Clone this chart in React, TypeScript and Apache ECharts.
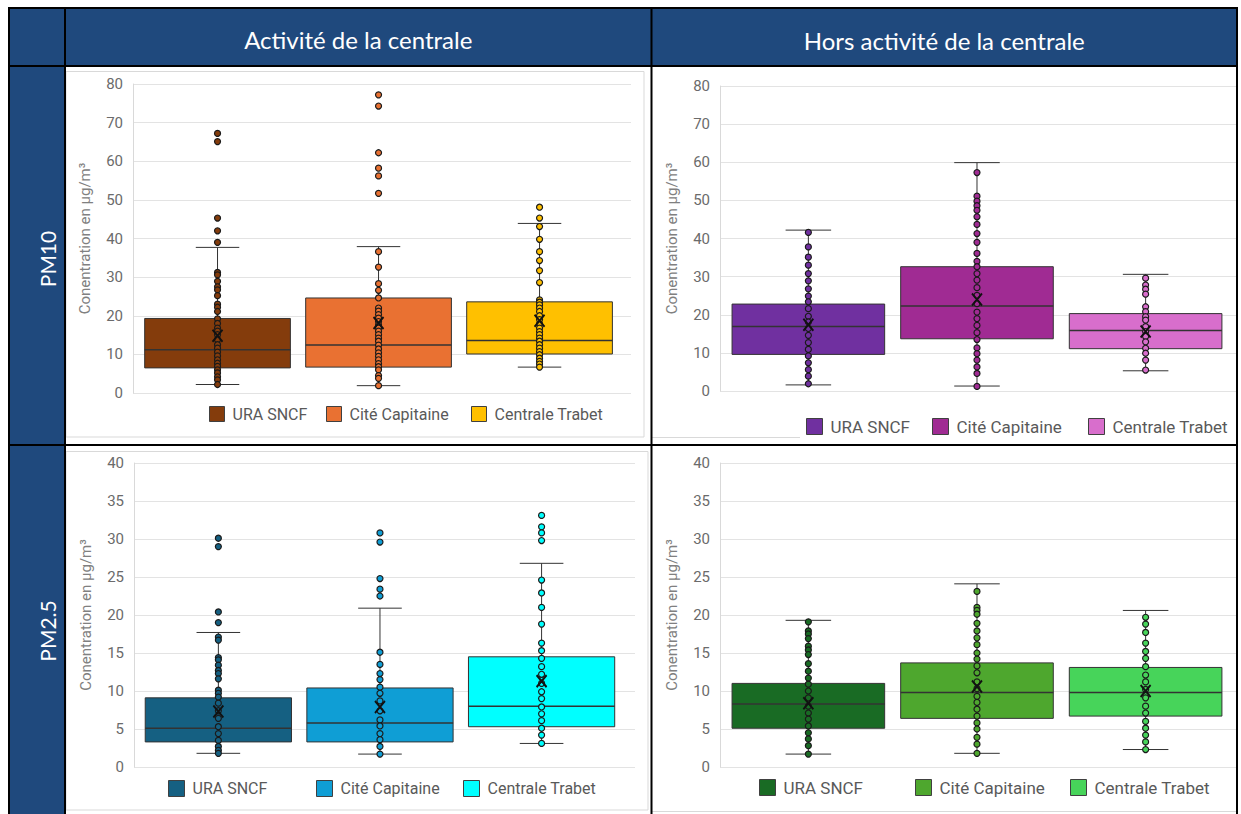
import React, { useEffect, useRef } from 'react';
import * as echarts from 'echarts';

// ---- labels ----
const SITES = ['URA SNCF', 'Cité Capitaine', 'Centrale Trabet'];
const PERIODS = ['Activité de la centrale', 'Hors activité de la centrale'];
const POLLUTANTS = ['PM10', 'PM2.5'];
const Y_TITLE = 'Conentration en µg/m³';

// ---- value axes: [min, max, step] ----
const PM10_TICKS = [0, 80, 10];
const PM25_TICKS = [0, 40, 5];

// ---- PM10, plant running: [min, Q1, median, Q3, max] per site ----
const PM10_ON_STATS = [
  [2.2, 6.5, 11.2, 19.3, 37.7],
  [1.9, 6.7, 12.4, 24.6, 37.9],
  [6.7, 10.1, 13.6, 23.6, 43.9],
];
const PM10_ON_MEANS = [14.8, 18.1, 18.7];
const PM10_ON_URA = [67.2, 65.1, 45.3, 42.0, 39.0, 31.2, 30.6, 28.9, 27.5, 26.7, 25.2, 23.0, 22.2, 21.1, 19.2, 18.0, 16.8, 16.0, 15.1, 13.8, 12.5, 11.6, 10.6, 9.6, 8.6, 7.7, 6.9, 6.0, 5.2, 4.2, 3.4, 2.2];
const PM10_ON_CITE = [77.2, 74.3, 62.2, 58.2, 56.2, 51.7, 36.6, 32.6, 28.3, 26.6, 24.6, 22.0, 21.2, 20.3, 19.4, 18.5, 17.6, 16.8, 16.0, 15.1, 14.2, 13.4, 12.4, 11.4, 10.4, 9.5, 8.6, 7.6, 6.8, 6.0, 4.5, 3.8, 1.9];
const PM10_ON_TRABET = [48.1, 45.3, 43.1, 39.8, 36.6, 34.3, 31.7, 28.6, 24.1, 23.5, 22.8, 22.0, 21.1, 20.0, 19.0, 17.9, 16.8, 15.9, 15.1, 14.2, 13.4, 12.5, 11.6, 10.7, 9.9, 9.0, 8.2, 7.5, 6.7];
const PM10_ON_COLORS = ['#843C0C', '#E97132', '#FFC000'];

// ---- PM10, plant stopped ----
const PM10_OFF_STATS = [
  [1.6, 9.6, 16.9, 22.8, 42.2],
  [1.3, 13.7, 22.3, 32.6, 59.9],
  [5.3, 11.1, 15.9, 20.3, 30.6],
];
const PM10_OFF_MEANS = [17.4, 24.0, 15.6];
const PM10_OFF_URA = [41.6, 37.8, 35.1, 33.0, 30.8, 28.9, 26.8, 24.9, 23.4, 21.6, 19.6, 18.1, 16.4, 14.6, 12.7, 10.9, 9.2, 7.4, 5.6, 3.9, 1.9];
const PM10_OFF_CITE = [57.3, 51.1, 49.8, 48.6, 47.4, 45.7, 43.7, 41.3, 39.0, 36.1, 34.0, 32.6, 30.8, 29.1, 27.1, 25.1, 22.9, 20.7, 19.0, 17.2, 15.3, 13.5, 11.3, 9.8, 8.1, 6.3, 4.6, 1.2];
const PM10_OFF_TRABET = [29.6, 27.8, 26.7, 25.4, 22.1, 20.8, 19.5, 18.6, 16.9, 15.6, 14.3, 12.9, 11.2, 9.9, 8.1, 5.5];
const PM10_OFF_COLORS = ['#7030A0', '#A02B93', '#D86ECC'];

// ---- PM2.5, plant running ----
const PM25_ON_STATS = [
  [1.8, 3.3, 5.1, 9.1, 17.7],
  [1.7, 3.3, 5.8, 10.4, 20.9],
  [3.1, 5.3, 8.0, 14.5, 26.8],
];
const PM25_ON_MEANS = [7.3, 7.9, 11.3];
const PM25_ON_URA = [30.1, 29.0, 20.4, 19.0, 17.1, 16.7, 14.4, 14.1, 13.4, 12.7, 12.3, 11.6, 10.1, 9.7, 9.2, 8.4, 7.4, 6.4, 5.3, 4.4, 3.5, 2.7, 2.2, 1.8];
const PM25_ON_CITE = [30.8, 29.6, 24.8, 23.4, 22.5, 15.1, 13.5, 12.3, 11.5, 10.5, 9.7, 8.7, 7.4, 6.2, 5.4, 4.4, 3.6, 2.7, 1.7];
const PM25_ON_TRABET = [33.1, 31.6, 30.8, 29.8, 24.6, 22.9, 21.0, 18.8, 16.3, 15.3, 14.3, 13.2, 12.2, 11.0, 9.9, 9.0, 7.9, 7.0, 6.1, 5.1, 4.2, 3.1];
const PM25_ON_COLORS = ['#156082', '#0F9ED5', '#00FFFF'];

// ---- PM2.5, plant stopped ----
const PM25_OFF_STATS = [
  [1.7, 5.1, 8.3, 11.0, 19.3],
  [1.8, 6.4, 9.8, 13.7, 24.1],
  [2.3, 6.7, 9.8, 13.1, 20.6],
];
const PM25_OFF_MEANS = [8.4, 10.6, 10.0];
const PM25_OFF_URA = [19.1, 17.9, 17.5, 16.9, 15.9, 15.4, 14.8, 13.6, 12.6, 11.7, 10.9, 10.0, 9.1, 8.0, 7.1, 6.3, 5.4, 4.5, 3.7, 2.8, 1.7];
const PM25_OFF_CITE = [23.1, 21.0, 20.6, 20.1, 18.9, 17.9, 17.0, 16.1, 15.0, 14.2, 13.3, 12.4, 11.2, 10.3, 9.3, 8.5, 7.6, 6.7, 5.8, 5.0, 3.9, 3.0, 1.8];
const PM25_OFF_TRABET = [19.7, 18.8, 17.7, 16.3, 15.2, 14.3, 13.2, 12.1, 11.2, 10.2, 9.1, 8.0, 7.1, 6.0, 5.1, 4.2, 3.3, 2.3];
const PM25_OFF_COLORS = ['#196B24', '#4EA72E', '#47D45A'];

// ---- styling ----
const CHART_FONT = "Roboto, 'Noto Sans', sans-serif";
const TABLE_FONT = "Lato, 'Noto Sans', sans-serif";
const NAVY = '#1F497D';
const BOX_WIDTH = 0.905; // in category units
const CAP_WIDTH = 0.27;
const EDGE = '#333333';

type Panel = {
  stats: number[][];
  means: number[];
  points: number[][];
  colors: string[];
  ticks: number[];
  grid: { left: number; top: number; width: number; height: number };
  xRange: [number, number];
  legendX: number[];
  legendY: number;
  legendBox: number;
  legendFont: number;
};

const PANELS: Panel[] = [
  {
    stats: PM10_ON_STATS, means: PM10_ON_MEANS,
    points: [PM10_ON_URA, PM10_ON_CITE, PM10_ON_TRABET], colors: PM10_ON_COLORS, ticks: PM10_TICKS,
    grid: { left: 133, top: 84, width: 498, height: 309 }, xRange: [-0.525, 2.568],
    legendX: [209, 326, 471], legendY: 416, legendBox: 15, legendFont: 16,
  },
  {
    stats: PM10_OFF_STATS, means: PM10_OFF_MEANS,
    points: [PM10_OFF_URA, PM10_OFF_CITE, PM10_OFF_TRABET], colors: PM10_OFF_COLORS, ticks: PM10_TICKS,
    grid: { left: 720, top: 86, width: 516, height: 305 }, xRange: [-0.524, 2.536],
    legendX: [806, 932, 1088], legendY: 428, legendBox: 16, legendFont: 17,
  },
  {
    stats: PM25_ON_STATS, means: PM25_ON_MEANS,
    points: [PM25_ON_URA, PM25_ON_CITE, PM25_ON_TRABET], colors: PM25_ON_COLORS, ticks: PM25_TICKS,
    grid: { left: 134, top: 463, width: 501, height: 304 }, xRange: [-0.522, 2.578],
    legendX: [168, 316, 463], legendY: 790, legendBox: 16, legendFont: 16,
  },
  {
    stats: PM25_OFF_STATS, means: PM25_OFF_MEANS,
    points: [PM25_OFF_URA, PM25_OFF_CITE, PM25_OFF_TRABET], colors: PM25_OFF_COLORS, ticks: PM25_TICKS,
    grid: { left: 720, top: 463, width: 516, height: 304 }, xRange: [-0.524, 2.536],
    legendX: [759, 915, 1070], legendY: 789, legendBox: 16, legendFont: 17,
  },
];

function boxShape(api: any, fill: string) {
  const c = api.value(0);
  const at = (k: number) => api.coord([c, api.value(k)]);
  const [cx, yMin] = at(1);
  const yQ1 = at(2)[1];
  const yMed = at(3)[1];
  const yQ3 = at(4)[1];
  const yMax = at(5)[1];
  const bw = api.size([BOX_WIDTH, 0], [c, 0])[0];
  const cw = api.size([CAP_WIDTH, 0], [c, 0])[0];
  const seg = (x1: number, y1: number, x2: number, y2: number, w = 1) => ({
    type: 'line',
    shape: { x1, y1, x2, y2 },
    style: { stroke: EDGE, lineWidth: w },
  });
  return {
    type: 'group',
    children: [
      seg(cx, yMax, cx, yQ3),
      seg(cx, yQ1, cx, yMin),
      seg(cx - cw / 2, yMax, cx + cw / 2, yMax),
      seg(cx - cw / 2, yMin, cx + cw / 2, yMin),
      {
        type: 'rect',
        shape: { x: cx - bw / 2, y: yQ3, width: bw, height: yQ1 - yQ3 },
        style: { fill, stroke: EDGE, lineWidth: 1 },
      },
      seg(cx - bw / 2, yMed, cx + bw / 2, yMed, 1.5),
    ],
  };
}

function tableGraphics() {
  const els: any[] = [];
  const L = 9, R = 1237, T = 8, B = 814;
  const COL0 = 65, COL1 = 651.5, HEAD = 66, ROW = 445;
  // navy header row and left column
  els.push({ type: 'rect', shape: { x: L, y: T, width: R - L, height: HEAD - T }, style: { fill: NAVY }, z: 0 });
  els.push({ type: 'rect', shape: { x: L, y: T, width: COL0 - L, height: B - T }, style: { fill: NAVY }, z: 0 });
  // light chart frames
  els.push({ type: 'rect', shape: { x: 66, y: 71.5, width: 578, height: 365.5 }, style: { fill: 'none', stroke: '#D9D9D9', lineWidth: 1 }, z: 1 });
  els.push({ type: 'line', shape: { x1: 652, y1: 437.5, x2: 800, y2: 437.5 }, style: { stroke: '#D9D9D9', lineWidth: 1 }, z: 1 });
  els.push({ type: 'rect', shape: { x: 66, y: 451.5, width: 582, height: 358.5 }, style: { fill: 'none', stroke: '#D9D9D9', lineWidth: 1 }, z: 1 });
  els.push({ type: 'line', shape: { x1: 652, y1: 811.5, x2: 1236, y2: 811.5 }, style: { stroke: '#D9D9D9', lineWidth: 1 }, z: 1 });
  // black table rules
  const rule = (x1: number, y1: number, x2: number, y2: number) => ({
    type: 'line', shape: { x1, y1, x2, y2 }, style: { stroke: '#000', lineWidth: 2 }, z: 100,
  });
  els.push(rule(8, T, R + 1, T));
  els.push(rule(L, T, L, B));
  els.push(rule(R, T, R, B));
  els.push(rule(COL0, T, COL0, B));
  els.push(rule(COL1, T, COL1, B));
  els.push(rule(8, HEAD, R + 1, HEAD));
  els.push(rule(8, ROW, R + 1, ROW));
  // header texts
  const headStyle = (text: string, size: number) => ({
    text, fill: '#fff', fontSize: size, fontFamily: TABLE_FONT,
    textAlign: 'center', textVerticalAlign: 'middle', align: 'center', verticalAlign: 'middle',
  });
  els.push({ type: 'text', x: (COL0 + COL1) / 2, y: 39, style: headStyle(PERIODS[0], 24), z: 101 });
  els.push({ type: 'text', x: (COL1 + R) / 2, y: 40, style: headStyle(PERIODS[1], 24), z: 101 });
  els.push({ type: 'text', x: 47, y: 259, rotation: Math.PI / 2, style: headStyle(POLLUTANTS[0], 21), z: 101 });
  els.push({ type: 'text', x: 47, y: 631, rotation: Math.PI / 2, style: headStyle(POLLUTANTS[1], 21), z: 101 });
  return els;
}

function buildOption() {
  const grid = PANELS.map((p) => ({ ...p.grid, containLabel: false }));
  const xAxis = PANELS.map((p, i) => ({
    type: 'value', gridIndex: i, min: p.xRange[0], max: p.xRange[1], show: false,
  }));
  const yAxis = PANELS.map((p, i) => ({
    type: 'value', gridIndex: i, min: p.ticks[0], max: p.ticks[1], interval: p.ticks[2],
    axisLine: { show: true, onZero: false, lineStyle: { color: '#D9D9D9', width: 1 } },
    axisTick: { show: false },
    axisLabel: { color: '#6b6b6b', fontSize: 15, margin: 10, fontFamily: CHART_FONT },
    splitLine: { lineStyle: { color: '#E3E3E3', width: 1 } },
    name: Y_TITLE, nameLocation: 'middle', nameGap: 41,
    nameTextStyle: { color: '#808080', fontSize: 15, fontFamily: CHART_FONT },
  }));

  const series: any[] = [];
  PANELS.forEach((p, i) => {
    SITES.forEach((site, j) => {
      const color = p.colors[j];
      series.push({
        type: 'custom', name: site, xAxisIndex: i, yAxisIndex: i, z: 2, silent: true,
        data: [[j, ...p.stats[j]]],
        encode: { x: 0, y: [1, 2, 3, 4, 5] },
        itemStyle: { color },
        renderItem: (_params: any, api: any) => boxShape(api, color),
      });
      series.push({
        type: 'scatter', name: site, xAxisIndex: i, yAxisIndex: i, z: 3, silent: true,
        symbol: 'circle', symbolSize: 6,
        data: p.points[j].map((v) => [j, v]),
        itemStyle: { color, borderColor: '#1a1a1a', borderWidth: 1.2, opacity: 1 },
      });
      series.push({
        type: 'scatter', name: site, xAxisIndex: i, yAxisIndex: i, z: 4, silent: true,
        symbol: 'path://M0,0L10,12M10,0L0,12', symbolSize: [10, 12],
        data: [[j, p.means[j]]],
        itemStyle: { color: 'none', borderColor: '#111', borderWidth: 2, opacity: 1 },
      });
    });
  });

  const legend = PANELS.flatMap((p) =>
    SITES.map((site, j) => ({
      show: true, selectedMode: false, orient: 'horizontal',
      left: p.legendX[j], top: p.legendY - 10, padding: 0,
      itemWidth: p.legendBox, itemHeight: p.legendBox, icon: 'rect',
      data: [{
        name: site, icon: 'rect',
        itemStyle: { color: p.colors[j], borderColor: '#404040', borderWidth: 1 },
      }],
      textStyle: { color: '#595959', fontSize: p.legendFont, fontFamily: CHART_FONT, padding: [0, 0, 0, 3] },
    }))
  );

  return {
    animation: false,
    backgroundColor: '#ffffff',
    textStyle: { fontFamily: CHART_FONT },
    grid, xAxis, yAxis, series, legend,
    graphic: { elements: tableGraphics() },
  };
}

export default function App() {
  const ref = useRef<HTMLDivElement>(null);
  useEffect(() => {
    if (!ref.current) return;
    const chart = echarts.init(ref.current, null, { renderer: 'svg' });
    chart.setOption(buildOption() as any);
    return () => chart.dispose();
  }, []);
  return (
    <div
      ref={ref}
      style={{ position: 'fixed', left: 0, top: 0, width: 1241, height: 814, background: '#fff' }}
    />
  );
}
